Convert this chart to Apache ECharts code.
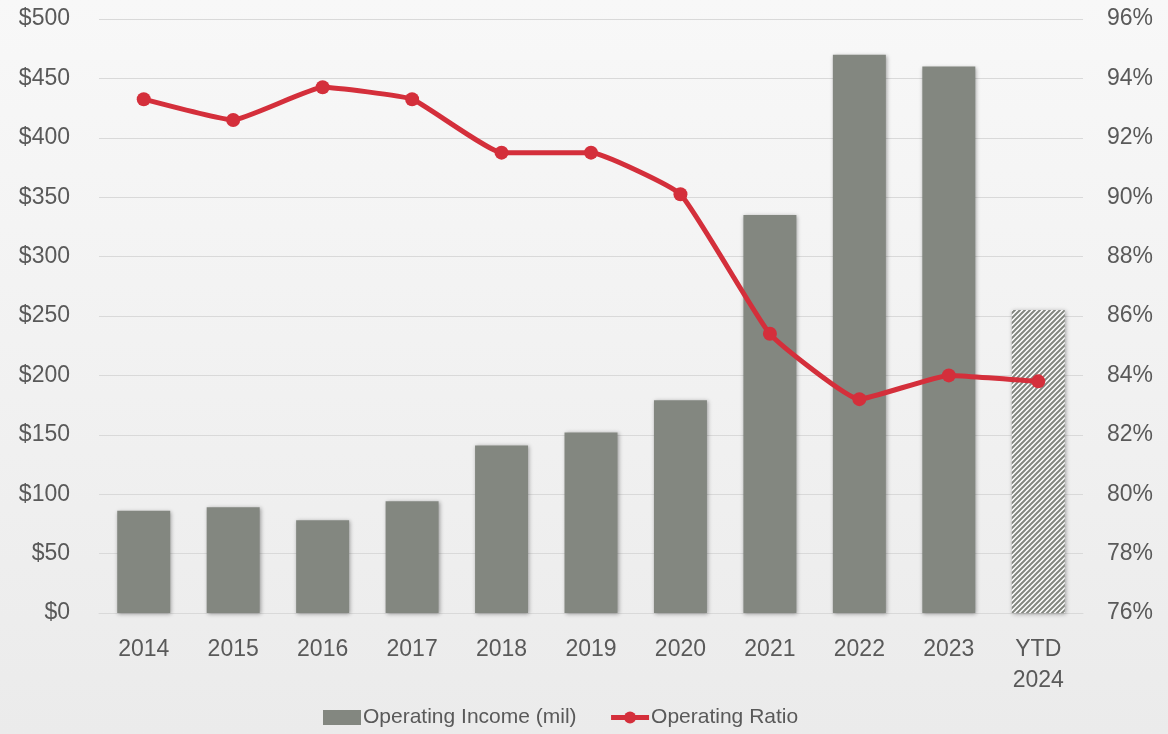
<!DOCTYPE html>
<html>
<head>
<meta charset="utf-8">
<script src="https://cdn.jsdelivr.net/npm/echarts@6/dist/echarts.min.js"></script>
<style>
  html, body { margin: 0; padding: 0; }
  #chart { width: 1168px; height: 734px; background: linear-gradient(to bottom, #f8f8f8 0%, #ebebeb 100%); }
</style>
</head>
<body>
<div id="chart"></div>
<script>
// Operating income (millions) and operating ratio by year
const categories = ['2014', '2015', '2016', '2017', '2018', '2019', '2020', '2021', '2022', '2023', 'YTD\n2024'];
const operatingIncome = [86, 89, 78, 94, 141, 152, 179, 335, 470, 460, 255];
const operatingRatio = [93.3, 92.6, 93.7, 93.3, 91.5, 91.5, 90.1, 85.4, 83.2, 84.0, 83.8];
const incomeTicks = { min: 0, max: 500, interval: 50 };
const ratioTicks = { min: 76, max: 96, interval: 2 };

const BAR_GRAY = '#838780';
const LINE_RED = '#d42f3b';
const TEXT = '#595959';
const FONT = 'Liberation Sans, Arial, sans-serif';

// Diagonal hatch pattern for the partial (year-to-date) bar
function hatchPattern() {
  const c = document.createElement('canvas');
  const s = 5;
  c.width = s; c.height = s;
  const g = c.getContext('2d');
  g.fillStyle = '#ffffff';
  g.fillRect(0, 0, s, s);
  g.strokeStyle = BAR_GRAY;
  g.lineWidth = 2;
  g.beginPath();
  for (let k = -1; k <= 1; k++) {
    g.moveTo(k * s - 1, s + 1);
    g.lineTo(k * s + s + 1, -1);
  }
  g.stroke();
  return { image: c, repeat: 'repeat' };
}

const barData = operatingIncome.map((v, i) =>
  i === operatingIncome.length - 1 ? { value: v, itemStyle: { color: hatchPattern() } } : v
);

const chart = echarts.init(document.getElementById('chart'), null, { renderer: 'canvas' });
chart.setOption({
  backgroundColor: 'transparent',
  animation: false,
  grid: { left: 99, right: 85, top: 19, bottom: 121, containLabel: false },
  legend: {
    bottom: 1,
    left: 318,
    itemWidth: 38,
    itemHeight: 15,
    itemGap: 32,
    textStyle: { color: TEXT, fontSize: 21, fontFamily: FONT, padding: [0, 0, 0, -3] },
    data: [
      { name: 'Operating Income (mil)', icon: 'rect', itemStyle: { color: BAR_GRAY } },
      { name: 'Operating Ratio', lineStyle: { width: 5, color: LINE_RED }, itemStyle: { color: LINE_RED } }
    ]
  },
  xAxis: {
    type: 'category',
    data: categories,
    axisLine: { show: true, lineStyle: { color: '#d9d9d9', width: 1 } },
    axisTick: { show: false },
    axisLabel: { color: TEXT, fontSize: 23, fontFamily: FONT, margin: 21, lineHeight: 31 }
  },
  yAxis: [
    {
      type: 'value',
      min: incomeTicks.min, max: incomeTicks.max, interval: incomeTicks.interval,
      axisLine: { show: false },
      axisTick: { show: false },
      splitLine: { lineStyle: { color: '#d9d9d9', width: 1 } },
      axisLabel: { color: TEXT, fontSize: 23, fontFamily: FONT, margin: 29, formatter: v => '$' + v }
    },
    {
      type: 'value',
      min: ratioTicks.min, max: ratioTicks.max, interval: ratioTicks.interval,
      axisLine: { show: false },
      axisTick: { show: false },
      splitLine: { show: false },
      axisLabel: { color: TEXT, fontSize: 23, fontFamily: FONT, margin: 24, formatter: v => v + '%' }
    }
  ],
  series: [
    {
      name: 'Operating Income (mil)',
      type: 'bar',
      yAxisIndex: 0,
      barWidth: 53,
      data: barData,
      itemStyle: {
        color: BAR_GRAY,
        shadowColor: 'rgba(0,0,0,0.35)',
        shadowBlur: 4,
        shadowOffsetX: 1,
        shadowOffsetY: 1
      }
    },
    {
      name: 'Operating Ratio',
      type: 'line',
      yAxisIndex: 1,
      data: operatingRatio,
      smooth: 0.12,
      symbol: 'circle',
      symbolSize: 14,
      lineStyle: { color: LINE_RED, width: 5 },
      itemStyle: { color: LINE_RED }
    }
  ]
});
</script>
</body>
</html>
